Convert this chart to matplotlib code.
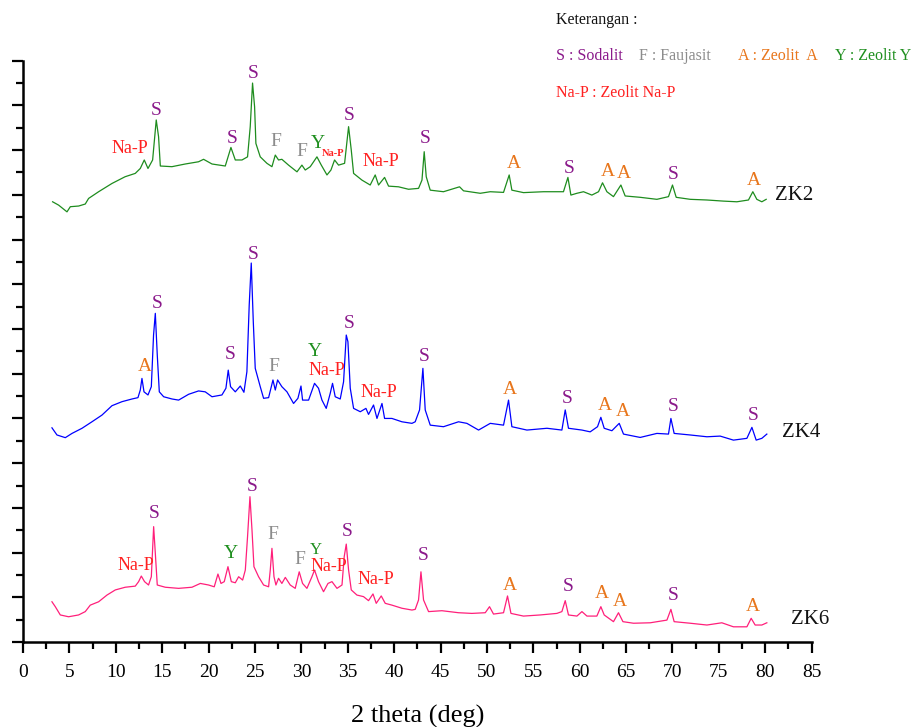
import numpy as np
import matplotlib.pyplot as plt
from matplotlib.ticker import MultipleLocator

plt.rcParams['font.family'] = ['Liberation Serif', 'DejaVu Serif']

# XRD traces: (2 theta, stacked intensity)
zk2_points = [
    (3.19, 19.69), (3.84, 19.54), (4.74, 19.24), (5.10, 19.47), (6.0, 19.5), (6.71, 19.59),
    (7.07, 19.84), (8.15, 20.14), (9.59, 20.51), (11.0, 20.81), (12.1, 20.96), (12.64, 21.18),
    (13.07, 21.56), (13.47, 21.18), (13.97, 21.56), (14.36, 23.35), (14.61, 22.6), (14.8, 21.29),
    (16.05, 21.26), (17.49, 21.38), (18.92, 21.48), (19.46, 21.59), (20.37, 21.38), (21.8, 21.29),
    (22.41, 22.12), (22.88, 21.56), (23.6, 21.56), (24.2, 21.7), (24.49, 23.05), (24.74, 25.0),
    (24.96, 23.94), (25.1, 22.3), (25.57, 21.7), (26.29, 21.41), (26.83, 21.26), (27.19, 21.78),
    (27.54, 21.56), (27.9, 21.59), (28.62, 21.33), (29.53, 21.03), (30.06, 21.33), (30.42, 21.11),
    (30.96, 21.26), (31.68, 21.7), (32.15, 21.33), (32.76, 20.89), (33.19, 21.11), (33.58, 21.56),
    (34.01, 21.33), (34.66, 21.41), (35.09, 23.05), (35.38, 22.0), (35.63, 20.96), (36.53, 20.66),
    (37.42, 20.44), (37.96, 20.89), (38.32, 20.44), (38.97, 20.78), (39.4, 20.39), (40.47, 20.36),
    (41.55, 20.25), (42.63, 20.29), (43.0, 20.66), (43.24, 21.93), (43.46, 20.81), (43.89, 20.21),
    (45.32, 20.14), (47.05, 20.36), (47.48, 20.18), (49.28, 20.07), (50.36, 20.14), (51.79, 20.11),
    (52.4, 20.89), (52.69, 20.21), (53.94, 20.1), (56.1, 20.14), (58.25, 20.14), (58.73, 20.78),
    (59.05, 19.99), (59.7, 20.07), (60.41, 20.14), (61.31, 19.99), (62.03, 20.14), (62.46, 20.54),
    (62.93, 20.14), (63.64, 19.92), (64.44, 20.44), (64.9, 19.95), (66.52, 19.89), (68.32, 19.8),
    (69.57, 19.92), (70.0, 20.44), (70.4, 19.89), (71.91, 19.8), (73.71, 19.77), (75.5, 19.72),
    (76.94, 19.69), (78.19, 19.77), (78.66, 20.14), (79.09, 19.8), (79.63, 19.69), (80.1, 19.8),
]

zk4_points = [
    (3.12, 9.58), (3.66, 9.26), (4.56, 9.14), (5.28, 9.33), (6.36, 9.56), (7.43, 9.85),
    (8.51, 10.15), (9.59, 10.57), (10.67, 10.75), (11.75, 10.87), (12.39, 10.93), (12.64, 11.27),
    (12.82, 11.79), (13.04, 11.19), (13.47, 11.05), (13.83, 11.42), (14.07, 13.73), (14.26, 14.7),
    (14.47, 12.84), (14.69, 11.19), (15.16, 10.97), (16.06, 10.87), (16.77, 10.82), (17.85, 11.08),
    (18.92, 11.23), (19.64, 11.19), (20.37, 10.97), (21.44, 11.05), (21.87, 11.35), (22.12, 12.16),
    (22.37, 11.42), (22.88, 11.19), (23.42, 11.45), (23.81, 11.17), (24.13, 12.09), (24.38, 15.07),
    (24.6, 16.95), (24.82, 14.32), (25.03, 12.24), (25.57, 11.42), (25.93, 10.9), (26.47, 10.93),
    (26.94, 11.72), (27.19, 11.27), (27.44, 11.72), (27.9, 11.42), (28.45, 11.19), (29.16, 10.67),
    (29.63, 10.9), (29.96, 11.45), (30.13, 10.82), (30.78, 10.82), (31.42, 11.57), (31.85, 11.35),
    (32.22, 10.82), (32.68, 10.45), (33.11, 11.12), (33.36, 11.57), (33.65, 10.97), (34.19, 10.87),
    (34.55, 11.64), (34.84, 13.73), (35.02, 13.43), (35.27, 11.35), (35.63, 10.45), (36.35, 10.3),
    (36.96, 10.45), (37.24, 10.18), (37.78, 10.6), (38.15, 10.0), (38.69, 10.67), (38.97, 10.0),
    (39.76, 10.0), (40.84, 9.85), (41.92, 9.78), (42.27, 9.85), (42.74, 10.38), (43.1, 12.24),
    (43.35, 10.38), (43.89, 9.7), (45.32, 9.63), (46.94, 9.85), (47.84, 9.78), (49.1, 9.48),
    (50.36, 9.78), (51.79, 9.7), (52.33, 10.82), (52.69, 9.63), (54.31, 9.48), (56.47, 9.56),
    (58.08, 9.48), (58.44, 10.38), (58.79, 9.56), (60.24, 9.48), (61.13, 9.4), (61.92, 9.63),
    (62.28, 10.05), (62.64, 9.56), (63.47, 9.45), (64.26, 9.78), (64.72, 9.3), (66.52, 9.15),
    (68.32, 9.33), (69.57, 9.3), (69.83, 10.0), (70.18, 9.33), (71.91, 9.26), (73.71, 9.18),
    (75.14, 9.21), (76.57, 9.03), (78.02, 9.11), (78.56, 9.6), (79.02, 9.03), (79.63, 9.11),
    (80.17, 9.3),
]

zk6_points = [
    (3.12, 1.8), (3.48, 1.58), (4.02, 1.21), (4.91, 1.13), (5.99, 1.21), (6.71, 1.36),
    (7.25, 1.65), (8.15, 1.8), (9.05, 2.1), (9.95, 2.33), (11.02, 2.45), (12.1, 2.5),
    (12.46, 2.7), (12.75, 2.95), (13.1, 2.7), (13.53, 2.55), (13.83, 2.92), (14.08, 5.16),
    (14.26, 3.97), (14.47, 2.55), (15.33, 2.45), (16.77, 2.4), (18.21, 2.45), (19.11, 2.62),
    (20.0, 2.55), (20.61, 2.47), (21.01, 3.04), (21.34, 2.62), (21.69, 2.7), (22.09, 3.37),
    (22.45, 2.7), (22.88, 2.65), (23.24, 2.92), (23.67, 2.77), (23.96, 3.22), (24.2, 4.71),
    (24.46, 6.5), (24.68, 5.01), (24.89, 3.37), (25.39, 2.92), (25.93, 2.55), (26.47, 2.47),
    (26.65, 3.22), (26.83, 4.19), (27.05, 2.92), (27.26, 2.55), (27.54, 2.85), (27.9, 2.62),
    (28.27, 2.89), (28.8, 2.55), (29.34, 2.4), (29.77, 3.14), (30.13, 2.62), (30.6, 2.4),
    (31.14, 2.92), (31.42, 3.22), (31.85, 2.7), (32.39, 2.25), (32.87, 2.62), (33.3, 2.7),
    (33.84, 2.4), (34.38, 2.55), (34.62, 3.82), (34.84, 4.38), (35.09, 3.22), (35.38, 2.33),
    (35.99, 2.1), (36.7, 2.03), (37.24, 1.85), (37.72, 2.15), (38.07, 1.73), (38.61, 2.06),
    (39.04, 1.73), (39.76, 1.65), (40.84, 1.51), (41.92, 1.43), (42.27, 1.46), (42.63, 1.88),
    (42.89, 3.14), (43.17, 1.88), (43.71, 1.36), (45.15, 1.4), (46.94, 1.31), (48.38, 1.28),
    (49.82, 1.31), (50.28, 1.58), (50.71, 1.25), (51.79, 1.31), (52.22, 2.06), (52.59, 1.28),
    (53.94, 1.16), (55.74, 1.21), (57.54, 1.28), (58.08, 1.36), (58.44, 1.85), (58.79, 1.21),
    (59.7, 1.16), (60.24, 1.36), (60.78, 1.16), (61.85, 1.16), (62.28, 1.58), (62.64, 1.21),
    (63.64, 0.91), (64.18, 1.31), (64.66, 0.91), (65.8, 0.84), (67.6, 0.86), (69.4, 0.98),
    (69.83, 1.46), (70.18, 0.91), (71.91, 0.84), (73.71, 0.76), (75.32, 0.86), (76.57, 0.68),
    (78.02, 0.68), (78.48, 1.06), (78.91, 0.76), (79.63, 0.76), (80.17, 0.86),
]

# phase labels: (text, 2 theta, height, phase)
zk2_labels = [
    ("Na-P", 11.57, 22.09, "P"), ("S", 14.36, 23.79, "S"), ("S", 22.52, 22.53, "S"),
    ("S", 24.85, 25.43, "S"), ("F", 27.26, 22.38, "F"), ("F", 30.06, 21.93, "F"),
    ("Y", 31.79, 22.3, "Y"), ("Na-P", 33.44, 21.86, "p"), ("S", 35.16, 23.57, "S"),
    ("Na-P", 38.59, 21.48, "P"), ("S", 43.35, 22.53, "S"), ("A", 52.87, 21.41, "A"),
    ("S", 58.9, 21.18, "S"), ("A", 63.0, 21.03, "A"), ("A", 64.72, 20.96, "A"),
    ("S", 70.11, 20.89, "S"), ("A", 78.8, 20.63, "A"),
]
zk4_labels = [
    ("A", 13.1, 12.31, "A"), ("S", 14.44, 15.15, "S"), ("S", 22.37, 12.87, "S"),
    ("S", 24.85, 17.35, "S"), ("F", 27.0, 12.31, "F"), ("Y", 31.5, 12.98, "Y"),
    ("Na-P", 32.76, 12.16, "P"), ("S", 35.16, 14.25, "S"), ("Na-P", 38.4, 11.18, "P"),
    ("S", 43.28, 12.76, "S"), ("A", 52.51, 11.3, "A"), ("S", 58.62, 10.9, "S"),
    ("A", 62.75, 10.6, "A"), ("A", 64.66, 10.3, "A"), ("S", 70.04, 10.55, "S"),
    ("S", 78.66, 10.15, "S"),
]
zk6_labels = [
    ("Na-P", 12.18, 3.44, "P"), ("S", 14.19, 5.76, "S"), ("Y", 22.45, 3.97, "Y"),
    ("S", 24.74, 6.95, "S"), ("F", 26.94, 4.79, "F"), ("F", 29.88, 3.7, "F"),
    ("Y", 31.57, 4.11, "y"), ("Na-P", 32.93, 3.37, "P"), ("S", 34.91, 4.93, "S"),
    ("Na-P", 38.04, 2.8, "P"), ("S", 43.17, 3.85, "S"), ("A", 52.51, 2.55, "A"),
    ("S", 58.79, 2.47, "S"), ("A", 62.39, 2.15, "A"), ("A", 64.36, 1.8, "A"),
    ("S", 70.04, 2.1, "S"), ("A", 78.66, 1.61, "A"),
]

sample_names = ["ZK2", "ZK4", "ZK6"]
name_pos = [(81.07, 19.99), (81.79, 9.35), (82.76, 1.01)]
line_colors = ["#1E8C1E", "#0000FF", "#FF1F7A"]

phase_style = {
    "S": ("#8B1A8B", 14), "A": ("#E8761C", 14), "F": ("#8C8C8C", 14),
    "Y": ("#1F8F1F", 14), "y": ("#1F8F1F", 12), "P": ("#FF2020", 13),
    "p": ("#FF2020", 7.5),
}

fig, ax = plt.subplots(figsize=(9.13, 7.27), dpi=100)
fig.subplots_adjust(left=0.0252, right=0.889, bottom=0.1169, top=0.9165)

traces = [zk2_points, zk4_points, zk6_points]
labels = [zk2_labels, zk4_labels, zk6_labels]
for pts, labs, name, pos, col in zip(traces, labels, sample_names, name_pos, line_colors):
    x, y = np.array(pts).T
    ax.plot(x, y, color=col, lw=0.9)
    for txt, lx, ly, ph in labs:
        c, fs = phase_style[ph]
        ax.text(lx, ly, txt, color=c, fontsize=fs, ha="center", va="center",
                fontweight="bold" if ph == "p" else "normal")
    ax.text(pos[0], pos[1], name, fontsize=15, ha="left", va="center", color="#111111")

ax.set_xlim(0, 85)
ax.set_ylim(0, 26)
ax.xaxis.set_major_locator(MultipleLocator(5))
ax.xaxis.set_minor_locator(MultipleLocator(2.5))
ax.yaxis.set_major_locator(MultipleLocator(2))
ax.yaxis.set_minor_locator(MultipleLocator(1))
ax.set_yticklabels([])
ax.tick_params(which="major", direction="out", length=8, width=1.6, labelsize=14, pad=8)
ax.tick_params(which="minor", direction="out", length=5, width=1.6)
ax.spines["top"].set_visible(False)
ax.spines["right"].set_visible(False)
ax.spines["left"].set_linewidth(1.8)
ax.spines["bottom"].set_linewidth(1.8)
ax.set_xlabel("2 theta (deg)", fontsize=19, labelpad=17)

# legend text (Keterangan)
fig.text(556 / 913, 1 - 20 / 727, "Keterangan :", fontsize=11.5, va="center", color="#111111")
fig.text(556 / 913, 1 - 56 / 727, "S : Sodalit", fontsize=11.5, va="center", color=phase_style["S"][0])
fig.text(639 / 913, 1 - 56 / 727, "F : Faujasit", fontsize=11.5, va="center", color=phase_style["F"][0])
fig.text(738 / 913, 1 - 56 / 727, "A : Zeolit  A", fontsize=11.5, va="center", color=phase_style["A"][0])
fig.text(835 / 913, 1 - 56 / 727, "Y : Zeolit Y", fontsize=11.5, va="center", color=phase_style["Y"][0])
fig.text(556 / 913, 1 - 93 / 727, "Na-P : Zeolit Na-P", fontsize=11.5, va="center", color=phase_style["P"][0])

fig.savefig("out.png", dpi=100)
